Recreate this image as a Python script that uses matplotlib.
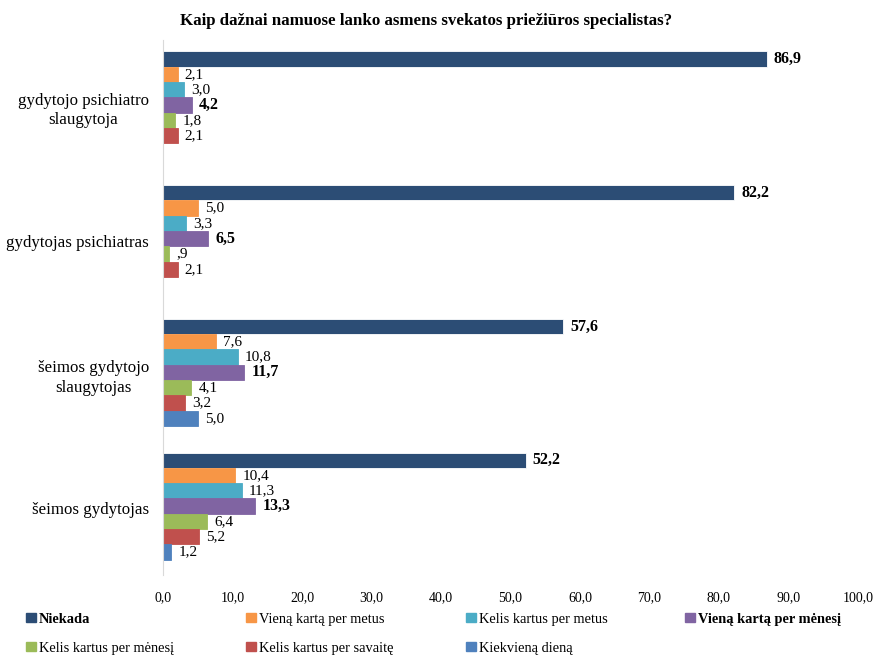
"""
Horizontal grouped bars: how often health-care specialists visit at home.
"""

import matplotlib.pyplot as plt
from matplotlib.patches import Patch

plt.rcParams["font.family"] = ["Liberation Serif", "DejaVu Serif"]

# --- data (percent), categories listed top to bottom ---
categories = [
    "gydytojo psichiatro\nslaugytoja",
    "gydytojas psichiatras",
    "šeimos gydytojo\nslaugytojas",
    "šeimos gydytojas",
]
series_names = [
    "Niekada",
    "Vieną kartą per metus",
    "Kelis kartus per metus",
    "Vieną kartą per mėnesį",
    "Kelis kartus per mėnesį",
    "Kelis kartus per savaitę",
    "Kiekvieną dieną",
]
niekada = [86.9, 82.2, 57.6, 52.2]
viena_per_metus = [2.1, 5.0, 7.6, 10.4]
kelis_per_metus = [3.0, 3.3, 10.8, 11.3]
viena_per_menesi = [4.2, 6.5, 11.7, 13.3]
kelis_per_menesi = [1.8, 0.9, 4.1, 6.4]
kelis_per_savaite = [2.1, 2.1, 3.2, 5.2]
kiekviena_diena = [None, None, 5.0, 1.2]

series = [niekada, viena_per_metus, kelis_per_metus, viena_per_menesi,
          kelis_per_menesi, kelis_per_savaite, kiekviena_diena]
colors = ["#2C4D75", "#F79646", "#4BACC6", "#8064A2",
          "#9BBB59", "#C0504D", "#4F81BD"]
bold_series = {0, 3}
xticks = [0, 10, 20, 30, 40, 50, 60, 70, 80, 90, 100]


def fmt(v):
    s = f"{v:.1f}".replace(".", ",")
    if s.startswith("0,"):
        s = s[1:]
    return s


fig = plt.figure(figsize=(8.73, 6.56), dpi=100)
ax = fig.add_axes([0.1867, 0.1235, 0.796, 0.8155])

h = 0.1145
n = len(series)
shift = -0.015
for j, (vals, col) in enumerate(zip(series, colors)):
    ys, xs = [], []
    for i, v in enumerate(vals):
        if v is None:
            continue
        ys.append(i + shift - n * h / 2 + (j + 0.5) * h)
        xs.append(v)
    ax.barh(ys, xs, height=h, color=col,
            edgecolor="white" if j == 0 else col, linewidth=0.6)
    weight = "bold" if j in bold_series else "normal"
    size = 11.5 if j in bold_series else 11
    for y, v in zip(ys, xs):
        ax.text(v + 1.0, y, fmt(v), va="center", ha="left",
                fontsize=size, fontweight=weight, color="black")

ax.set_ylim(3.5, -0.5)
ax.set_xlim(0, 100)
ax.set_yticks(range(len(categories)))
ax.set_yticklabels(categories, fontsize=12.2, multialignment="center",
                   linespacing=1.3)
ax.set_xticks(xticks)
ax.set_xticklabels([f"{t},0" for t in xticks], fontsize=10)
ax.tick_params(axis="both", length=0)
ax.tick_params(axis="y", pad=10)
ax.tick_params(axis="x", pad=12)
for side in ["top", "right", "bottom"]:
    ax.spines[side].set_visible(False)
ax.spines["left"].set_color("#D9D9D9")

fig.text(0.488, 0.968, "Kaip dažnai namuose lanko asmens svekatos priežiūros specialistas?",
         ha="center", va="center", fontsize=12.2, fontweight="bold")

# legend: four columns at fixed positions, two rows
columns = [[0, 4], [1, 5], [2, 6], [3]]
col_x = [0.030, 0.282, 0.534, 0.785]
for cx, idx in zip(col_x, columns):
    handles = [Patch(facecolor=colors[k], edgecolor=colors[k]) for k in idx]
    leg = fig.legend(handles, [series_names[k] for k in idx],
                     loc="upper left", bbox_to_anchor=(cx, 0.066),
                     bbox_transform=fig.transFigure, frameon=False,
                     fontsize=10.4, handlelength=0.65, handleheight=0.65,
                     handletextpad=0.25, labelspacing=1.1, borderpad=0,
                     borderaxespad=0)
    for k, t in zip(idx, leg.get_texts()):
        if k in bold_series:
            t.set_fontweight("bold")

fig.savefig("out.png", dpi=100)
